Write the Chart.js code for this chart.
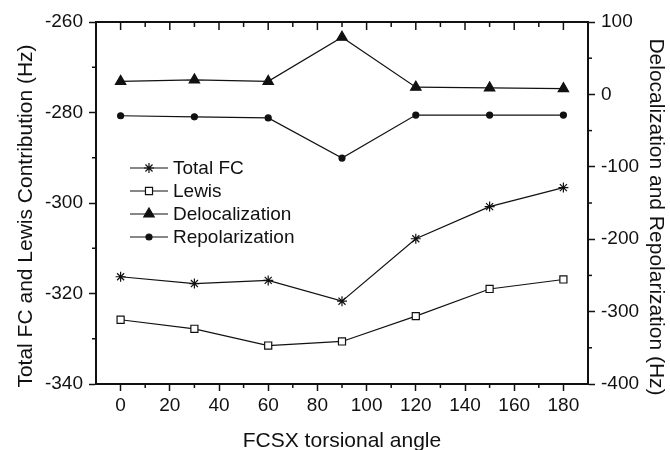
<!DOCTYPE html>
<html>
<head>
<meta charset="utf-8">
<script src="https://cdn.jsdelivr.net/npm/chart.js@4.4.1/dist/chart.umd.min.js"></script>
<style>
  html, body { margin: 0; padding: 0; background: #fff; }
</style>
</head>
<body>
<canvas id="fc-chart" width="670" height="450"></canvas>
<script>
// values
const angles = [0, 30, 60, 90, 120, 150, 180]
const totalFC = [-316.3, -317.8, -317.1, -321.7, -307.9, -300.8, -296.6]
const lewis = [-325.8, -327.8, -331.5, -330.6, -325.0, -319.0, -316.9]
const deloc = [18, 20, 18, 79, 10, 9, 8]
const repol = [-29.5, -31, -32.5, -88, -28.5, -28.5, -28.5]

// ticks
const xTicks = [0, 20, 40, 60, 80, 100, 120, 140, 160, 180]
const xMinor = [10, 30, 50, 70, 90, 110, 130, 150, 170]
const leftTicks = [-340, -320, -300, -280, -260]
const leftMinor = [-330, -310, -290, -270]
const rightTicks = [-400, -300, -200, -100, 0, 100]
const rightMinor = [-350, -250, -150, -50, 50]

const xTitle = 'FCSX torsional angle'
const leftTitle = 'Total FC and Lewis Contribution (Hz)'
const rightTitle = 'Delocalization and Repolarization (Hz)'

const ink = '#111'
const toPoints = ys => angles.map((x, i) => ({ x: x, y: ys[i] }))

Chart.defaults.font.family = '"Liberation Sans", Arial, sans-serif'
Chart.defaults.font.size = 19
Chart.defaults.color = ink

// 軸のミニ目盛り・上枠・軸タイトル・凡例
const decor = {
	id: 'decor',
	afterDraw(chart) {
		const ctx = chart.ctx
		const a = chart.chartArea
		const sx = chart.scales.x, sl = chart.scales.y, sr = chart.scales.y1
		ctx.save()
		ctx.strokeStyle = ink
		ctx.lineWidth = 1.5

		const line = (x1, y1, x2, y2) => { ctx.beginPath(); ctx.moveTo(x1, y1); ctx.lineTo(x2, y2); ctx.stroke() }

		// top frame with inward ticks
		ctx.lineWidth = 2
		line(a.left - 1, a.top, a.right + 1, a.top)
		ctx.lineWidth = 1.5
		xTicks.forEach(v => { const p = sx.getPixelForValue(v); line(p, a.top, p, a.top + 8) })
		xMinor.forEach(v => { const p = sx.getPixelForValue(v); line(p, a.top, p, a.top + 5); line(p, a.bottom, p, a.bottom + 4) })
		leftMinor.forEach(v => { const p = sl.getPixelForValue(v); line(a.left, p, a.left - 4, p) })
		rightMinor.forEach(v => { const p = sr.getPixelForValue(v); line(a.right, p, a.right + 4, p) })

		// axis titles
		ctx.fillStyle = ink
		ctx.font = '21px "Liberation Sans", Arial, sans-serif'
		ctx.textAlign = 'center'
		ctx.textBaseline = 'alphabetic'
		ctx.fillText(xTitle, (a.left + a.right) / 2, 447)
		ctx.save()
		ctx.translate(32, 216)
		ctx.rotate(-Math.PI / 2)
		ctx.fillText(leftTitle, 0, 0)
		ctx.restore()
		ctx.save()
		ctx.translate(650, 217)
		ctx.rotate(Math.PI / 2)
		ctx.fillText(rightTitle, 0, 0)
		ctx.restore()

		// legend inside the plot
		ctx.font = '19px "Liberation Sans", Arial, sans-serif'
		ctx.textAlign = 'left'
		ctx.textBaseline = 'middle'
		chart.data.datasets.forEach((ds, i) => {
			const y = 168 + i * 23
			ctx.lineWidth = 1.2
			ctx.strokeStyle = ink
			line(130, y, 168, y)
			ctx.fillStyle = ds.pointBackgroundColor
			ctx.strokeStyle = ds.pointBorderColor
			ctx.lineWidth = ds.pointBorderWidth
			Chart.helpers.drawPoint(ctx, { pointStyle: ds.pointStyle, radius: ds.pointRadius, borderWidth: ds.pointBorderWidth, rotation: 0 }, 149, y)
			ctx.fillStyle = ink
			ctx.fillText(ds.label, 173, y + 1)
		})
		ctx.restore()
	}
}

const series = (label, ys, axis, style, radius, fill) => ({
	label: label,
	data: toPoints(ys),
	yAxisID: axis,
	borderColor: ink,
	borderWidth: 1.2,
	tension: 0,
	pointStyle: style,
	pointRadius: radius,
	pointHoverRadius: radius,
	pointBackgroundColor: fill,
	pointBorderColor: ink,
	pointBorderWidth: 1.2
})

const axisGrid = { display: true, drawOnChartArea: false, drawTicks: true, tickLength: 7, tickWidth: 1.5, tickColor: ink }
const axisBorder = { display: true, width: 2, color: ink }

new Chart(document.getElementById('fc-chart'), {
	type: 'line',
	data: {
		datasets: [
			series('Total FC', totalFC, 'y', 'star', 5, ink),
			series('Lewis', lewis, 'y', 'rect', 5, '#fff'),
			series('Delocalization', deloc, 'y1', 'triangle', 6, ink),
			series('Repolarization', repol, 'y1', 'circle', 3, ink)
		]
	},
	options: {
		responsive: false,
		animation: false,
		devicePixelRatio: 1,
		layout: { padding: { top: 22, left: 0, right: 0, bottom: 0 } },
		plugins: { legend: { display: false }, tooltip: { enabled: false } },
		scales: {
			x: {
				type: 'linear',
				min: -10,
				max: 190,
				grid: axisGrid,
				border: axisBorder,
				ticks: { padding: 3 },
				afterBuildTicks: s => { s.ticks = xTicks.map(v => ({ value: v })) },
				afterFit: s => { s.height = 66 }
			},
			y: {
				position: 'left',
				min: -340,
				max: -260,
				grid: axisGrid,
				border: axisBorder,
				ticks: { padding: 6 },
				afterBuildTicks: s => { s.ticks = leftTicks.map(v => ({ value: v })) },
				afterFit: s => { s.width = 96 }
			},
			y1: {
				position: 'right',
				min: -400,
				max: 100,
				grid: axisGrid,
				border: axisBorder,
				ticks: { padding: 6 },
				afterBuildTicks: s => { s.ticks = rightTicks.map(v => ({ value: v })) },
				afterFit: s => { s.width = 82 }
			}
		}
	},
	plugins: [decor]
})
</script>
</body>
</html>
